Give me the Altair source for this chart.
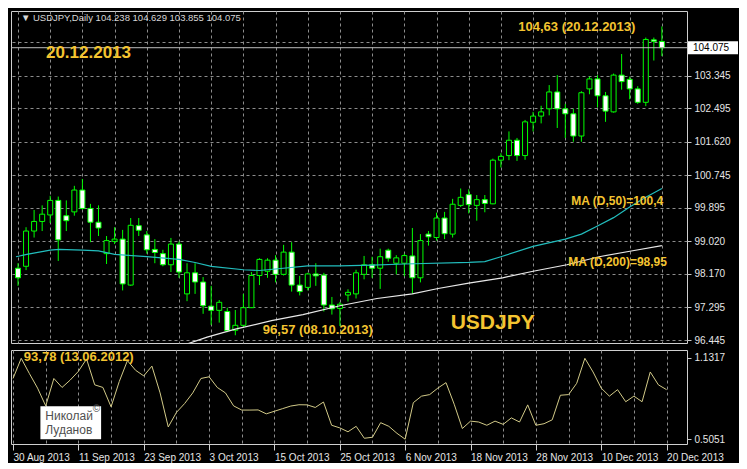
import json
import altair as alt
import pandas as pd

# ---------------- data ----------------
bar_index = list(range(81))
opens = [98.32, 98.37, 99.29, 99.54, 99.71, 100.09, 99.69, 99.79, 100.36, 99.88,
         99.52, 98.70, 99.02, 99.08, 97.88, 99.43, 99.19, 98.81, 98.70, 98.41,
         98.95, 97.65, 98.20, 97.96, 97.33, 97.22, 97.19, 96.70, 96.83, 97.29,
         98.13, 98.24, 98.53, 98.16, 98.74, 97.88, 97.82, 98.17, 98.14, 97.36,
         97.27, 97.62, 97.65, 98.16, 98.41, 98.32, 98.79, 98.45, 98.45, 98.64,
         98.07, 99.21, 99.12, 99.63, 99.21, 99.96, 100.24, 99.96, 100.11, 100.00,
         101.14, 101.26, 101.66, 101.26, 102.13, 102.29, 102.48, 102.92, 102.48, 102.35,
         101.77, 103.00, 103.26, 102.82, 102.40, 103.36, 103.25, 103.00, 102.65, 104.28,
         104.238]
highs = [98.45, 99.39, 99.84, 99.96, 100.21, 100.19, 100.09, 100.47, 100.65, 100.00,
         99.96, 99.16, 99.39, 99.32, 99.63, 99.63, 99.29, 99.08, 98.80, 99.11,
         99.02, 98.45, 98.45, 98.09, 97.86, 97.49, 97.29, 97.23, 97.65, 98.22,
         98.58, 98.58, 98.66, 98.93, 99.00, 98.12, 98.20, 98.45, 98.20, 97.57,
         97.44, 97.77, 98.28, 98.64, 98.62, 98.83, 98.83, 98.66, 98.70, 99.37,
         99.21, 99.29, 99.77, 99.79, 100.13, 100.40, 100.38, 100.23, 100.23, 101.18,
         101.32, 101.89, 101.72, 102.19, 102.40, 102.56, 103.10, 103.36, 102.61, 102.48,
         102.94, 103.32, 103.36, 102.92, 103.40, 103.91, 103.32, 103.07, 104.34, 104.34,
         104.629]
lows = [97.86, 98.27, 99.12, 99.29, 99.50, 98.51, 99.29, 99.69, 99.85, 99.00,
        99.16, 98.43, 98.95, 97.74, 97.86, 99.16, 98.70, 98.45, 98.37, 98.22,
        98.07, 97.46, 97.65, 97.13, 96.84, 96.90, 96.65, 96.57, 96.77, 97.28,
        97.88, 98.07, 97.95, 98.13, 97.71, 97.61, 97.74, 97.86, 97.19, 97.11,
        96.81, 97.45, 97.53, 98.03, 98.07, 97.78, 98.49, 98.16, 98.11, 97.65,
        97.95, 98.91, 99.04, 99.08, 99.12, 99.92, 99.75, 99.56, 99.78, 99.99,
        100.95, 101.14, 101.12, 101.15, 101.89, 102.10, 102.31, 101.98, 101.72, 101.62,
        101.62, 102.86, 102.52, 102.14, 102.38, 102.98, 102.73, 102.61, 102.55, 103.74,
        103.855]
closes = [98.07, 99.29, 99.54, 99.73, 100.09, 99.06, 99.56, 100.36, 99.88, 99.52,
          99.37, 99.04, 99.08, 97.91, 99.44, 99.31, 98.80, 98.73, 98.41, 98.95,
          98.22, 98.20, 97.96, 97.34, 97.22, 97.43, 96.69, 96.83, 97.29, 98.13,
          98.55, 98.53, 98.16, 98.74, 97.88, 97.71, 98.17, 98.12, 97.36, 97.26,
          97.38, 97.69, 98.20, 98.41, 98.32, 98.62, 98.58, 98.59, 98.65, 98.07,
          99.04, 99.14, 99.63, 99.22, 99.99, 100.17, 99.98, 100.11, 100.01, 101.14,
          101.24, 101.66, 101.26, 102.14, 102.29, 102.40, 102.92, 102.48, 102.35, 101.77,
          102.90, 103.26, 102.82, 102.42, 103.36, 103.19, 103.00, 102.65, 104.29, 104.24,
          104.075]
atr_values = [0.972, 1.127, 1.010, 0.898, 0.761, 0.972, 0.903, 0.960, 1.027, 1.122,
              0.923, 0.903, 0.754, 0.948, 1.109, 1.035, 0.992, 1.067, 0.861, 0.599,
              0.711, 0.779, 0.861, 0.972, 0.985, 0.903, 0.861, 0.761, 0.729, 0.729,
              0.730, 0.700, 0.720, 0.740, 0.760, 0.770, 0.769, 0.749, 0.791, 0.612,
              0.592, 0.562, 0.604, 0.512, 0.520, 0.632, 0.604, 0.550, 0.505, 0.786,
              0.836, 0.848, 0.898, 0.940, 0.774, 0.587, 0.644, 0.637, 0.612, 0.644,
              0.619, 0.669, 0.637, 0.769, 0.612, 0.624, 0.654, 0.843, 0.848, 0.935,
              1.127, 1.022, 0.898, 0.836, 0.886, 0.793, 0.836, 0.793, 1.022, 0.923,
              0.886]
ma50_bars = [-0.25, 1.1, 4, 5.1, 8, 10, 12, 16, 20, 22, 24, 28, 30, 32, 36, 40,
             44, 48, 56, 58, 60, 64, 68, 70, 72, 74, 76, 78, 80]
ma50_values = [98.62, 98.68, 98.79, 98.81, 98.79, 98.77, 98.68, 98.62, 98.55, 98.47,
               98.37, 98.28, 98.26, 98.30, 98.38, 98.38, 98.40, 98.43, 98.47, 98.49,
               98.62, 98.89, 99.08, 99.21, 99.42, 99.64, 99.92, 100.17, 100.40]
ma200_bars = [20.4, 23.5, 27, 31.5, 35.4, 40, 44.6, 49, 52.2, 56, 60.2, 64, 68.2,
              72.2, 76.2, 80]
ma200_values = [96.30, 96.52, 96.73, 96.95, 97.11, 97.34, 97.53, 97.65, 97.79, 97.93,
                98.07, 98.24, 98.41, 98.62, 98.77, 98.91]
date_labels = ["30 Aug 2013", "11 Sep 2013", "23 Sep 2013", "3 Oct 2013",
               "15 Oct 2013", "25 Oct 2013", "6 Nov 2013", "18 Nov 2013",
               "28 Nov 2013", "10 Dec 2013", "20 Dec 2013"]
price_ticks = [96.445, 97.295, 98.170, 99.020, 99.895, 100.745, 101.620,
               102.495, 103.345, 104.220]
atr_ticks = [0.5051, 1.1317]
grid_bars = list(range(0, 81, 4))

# ---------------- layout / style ----------------
W, H1, H2 = 676, 332, 94
GOLD = "#F4C430"
FONT = "Liberation Sans"
CANDLE = "#00FF00"

candles = pd.DataFrame(dict(i=bar_index, open=opens, high=highs, low=lows, close=closes))
atr_df = pd.DataFrame(dict(i=bar_index, v=atr_values))
ma50_df = pd.DataFrame(dict(i=ma50_bars, v=ma50_values))
ma200_df = pd.DataFrame(dict(i=ma200_bars, v=ma200_values))
last_df = pd.DataFrame(dict(p=[closes[-1]]))
one = pd.DataFrame({"k": [0]})

xscale = alt.Scale(domain=[-0.25, 82.5], nice=False, zero=False)
yscale = alt.Scale(domain=[96.368, 105.033], nice=False, zero=False)
ascale = alt.Scale(domain=[0.468, 1.191], nice=False, zero=False)

grid_axis = alt.Axis(values=grid_bars, labels=False, ticks=False, domain=False,
                     grid=True, title=None)
price_axis = alt.Axis(orient="right", values=price_ticks, format=".3f",
                      labelExpr="datum.value > 104 ? '' : datum.label",
                      grid=True, ticks=True, tickSize=4, domain=False, title=None,
                      labelPadding=3, labelOverlap=False, labelBaseline="middle")
lab_js = json.dumps(date_labels)
date_axis = alt.Axis(values=grid_bars, grid=True, domain=False, title=None,
                     labelExpr=f"datum.value % 8 == 0 ? {lab_js}[datum.value / 8] : ''",
                     labelAlign="left", labelPadding=2, labelFlush=False,
                     labelOverlap=False, tickSize=6,
                     tickColor={"condition": {"test": "datum.value % 8 == 0",
                                              "value": "#D0D0D0"},
                                "value": "transparent"})
atr_axis = alt.Axis(orient="right", values=atr_ticks, format=".4f", grid=False,
                    ticks=True, tickSize=4, domain=False, title=None,
                    labelPadding=3, labelOverlap=False)


def X(field="i"):
    return alt.X(f"{field}:Q", scale=xscale, axis=grid_axis)


def Y(field):
    return alt.Y(f"{field}:Q", scale=yscale, axis=price_axis)


def XL(field="i"):
    return alt.X(f"{field}:Q", scale=xscale, axis=date_axis)


def YL(field):
    return alt.Y(f"{field}:Q", scale=ascale, axis=atr_axis)


# ---------------- main panel ----------------
wicks = alt.Chart(candles).mark_rule(color=CANDLE, strokeWidth=1).encode(
    x=X(), y=Y("low"), y2="high:Q")
bodies = alt.Chart(candles).mark_bar(size=5, stroke=CANDLE, strokeWidth=1).encode(
    x=X(), y=Y("open"), y2="close:Q",
    fill=alt.condition("datum.close < datum.open", alt.value("#FFFFFF"),
                       alt.value("#000000")))
ma50 = alt.Chart(ma50_df).mark_line(color="#22BDBD", strokeWidth=1.2, clip=True).encode(
    x=X(), y=Y("v"))
ma200 = alt.Chart(ma200_df).mark_line(color="#E8E8E8", strokeWidth=1.2, clip=True).encode(
    x=X(), y=Y("v"))
bid = alt.Chart(last_df).mark_rule(color="#BDBDBD", strokeWidth=1).encode(y=Y("p"))
price_box = alt.Chart(last_df).transform_calculate(
    top="datum.p + 0.17", bot="datum.p - 0.17").mark_rect(
    color="#FFFFFF", clip=False).encode(
    x=alt.value(W + 1), x2=alt.value(W + 51), y=Y("top"), y2="bot:Q")
price_txt = alt.Chart(last_df).mark_text(
    align="left", baseline="middle", font=FONT, fontSize=10, color="#000000").encode(
    x=alt.value(W + 6), y=Y("p"), text=alt.Text("p:Q", format=".3f"))


def note(text, xi, yp, size, align="left", color=GOLD, weight="bold"):
    return alt.Chart(one).mark_text(
        align=align, baseline="middle", font=FONT, fontSize=size,
        fontWeight=weight, color=color).encode(
        x=alt.X(datum=xi, type="quantitative", scale=xscale, axis=grid_axis),
        y=alt.Y(datum=yp, type="quantitative", scale=yscale, axis=price_axis),
        text=alt.value(text))


header = note("\u25BC USDJPY,Daily  104.238 104.629 103.855 104.075", 0.36, 104.86,
              9.5, color="#D6D6D6", weight="normal")
n1 = note("20.12.2013", 3.47, 103.94, 17)
n2 = note("104,63 (20.12.2013)", 62.16, 104.61, 13)
n3 = note("MA (D,50)=100,4", 68.74, 100.07, 12)
n4 = note("MA (D,200)=98,95", 68.38, 98.48, 12)
n5 = note("96,57 (08.10.2013)", 30.42, 96.70, 13)
n6 = note("USDJPY", 58.98, 96.90, 21, align="center")

main = alt.layer(wicks, bodies, ma50, ma200, bid, price_box, price_txt,
                 header, n1, n2, n3, n4, n5, n6).properties(width=W, height=H1)

# ---------------- lower panel ----------------
atr_line = alt.Chart(atr_df).mark_line(color="#D2CA88", strokeWidth=1).encode(
    x=XL(), y=YL("v"))


def lnote(text, xi, yv, size, align="left", color=GOLD, weight="bold"):
    return alt.Chart(one).mark_text(
        align=align, baseline="middle", font=FONT, fontSize=size,
        fontWeight=weight, color=color).encode(
        x=alt.X(datum=xi, type="quantitative", scale=xscale, axis=date_axis),
        y=alt.Y(datum=yv, type="quantitative", scale=ascale, axis=atr_axis),
        text=alt.value(text))


n7 = lnote("93,78 (13.06.2012)", 1.32, 1.139, 13)
box = alt.Chart(one).mark_rect(color="#FFFFFF").encode(
    x=alt.X(datum=3.35, type="quantitative", scale=xscale, axis=date_axis),
    x2=alt.X2(datum=10.78),
    y=alt.Y(datum=0.505, type="quantitative", scale=ascale, axis=atr_axis),
    y2=alt.Y2(datum=0.759))
c1 = lnote("Николай", 3.95, 0.680, 12, color="#505050", weight="normal")
c2 = lnote("Луданов", 3.95, 0.575, 12, color="#505050", weight="normal")
c3 = lnote("©", 9.75, 0.735, 10, color="#505050", weight="normal")

lower = alt.layer(atr_line, n7, box, c1, c2, c3).properties(width=W, height=H2)

chart = alt.vconcat(main, lower, spacing=3).properties(
    background="#000000",
    padding={"left": 2, "top": 2, "right": 0, "bottom": 0},
).configure_view(
    stroke="#CFCFCF", strokeWidth=1
).configure_axis(
    labelColor="#E6E6E6", labelFont=FONT, labelFontSize=10,
    tickColor="#C8C8C8", gridColor="#8C8C8C", gridDash=[3, 3], gridWidth=1,
    gridOpacity=1
)

chart.save("out.html", embed_options={"renderer": "svg", "actions": False})
